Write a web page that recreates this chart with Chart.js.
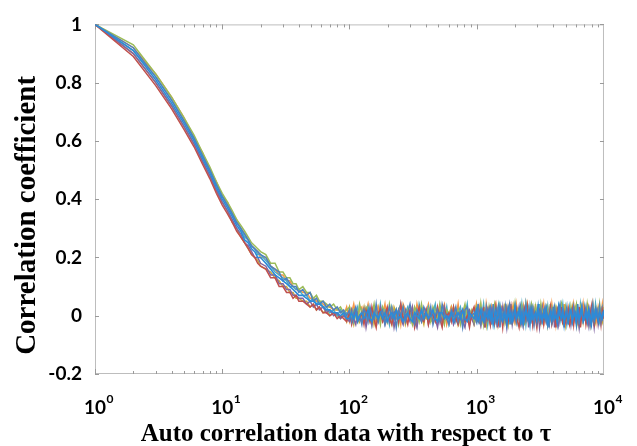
<!DOCTYPE html>
<html>
<head>
<meta charset="utf-8">
<script src="https://cdn.jsdelivr.net/npm/chart.js@4.4.1/dist/chart.umd.min.js"></script>
<style>
  html, body { margin: 0; padding: 0; background: #fff; }
  #wrap { width: 637px; height: 446px; position: relative; }
</style>
</head>
<body>
<div id="wrap"><canvas id="c" width="637" height="446"></canvas></div>
<script>
// Lag tau (samples), shared by every run
const lags = [
  1,2,3,4,5,6,7,8,9,10,
  11,12,13,14,15,16,17,18,19,20,
  22,24,26,28,30,32,34,36,38,40,
  43,46,49,52,55,58,62,66,70,75,
  80,85,90,95,100,104,108,112,116,120,
  125,130,135,140,145,150,156,162,168,175,
  182,190,198,206,215,224,233,243,253,264,
  275,287,299,312,325,339,353,368,384,400,
  417,435,453,472,492,513,535,557,581,605,
  631,657,685,714,744,775,808,842,877,914,
  953,993,1025,1051,1077,1104,1132,1160,1189,1219,
  1250,1281,1313,1346,1380,1414,1450,1486,1523,1561,
  1600,1640,1681,1723,1766,1810,1856,1902,1950,1998,
  2048,2100,2152,2206,2261,2318,2376,2435,2496,2558,
  2622,2688,2755,2824,2895,2967,3041,3117,3195,3275,
  3357,3441,3527,3615,3706,3798,3893,3991,4090,4193,
  4297,4405,4515,4628,4744,4862,4984,5108,5236,5367,
  5501,5639,5780,5924,6072,6224,6380,6539,6703,6870,
  7042,7218,7399,7584,7773,7968,8167,8371,8580,8795,
  9015,9240,9471,9708,10000
];

// Correlation coefficient of each run at the lags above, in hundredths
const run1 = [
  100,92,82,74,67,61,55,50,45,41,
  38,35,32,30,28,26,24,23,22,21,
  20,17,16,15,12,13,11,10,10,8,
  9,7,8,5,6,4,5,3,4,2,
  3,1,2,0,2,-2,1,3,-1,0,
  -3,2,1,-2,3,0,-1,4,-2,1,
  2,-3,0,3,-1,1,-4,2,0,3,
  -2,1,4,-1,-3,2,0,-2,3,1,
  -1,3,-3,0,2,-2,4,1,-1,-3,
  2,0,3,-2,1,-4,2,3,-1,0,
  1,-2,4,-1,-3,2,1,-2,3,0,
  -1,2,-3,4,0,-2,1,3,-4,2,
  0,-1,3,-2,2,4,-3,1,-1,3,
  -2,1,0,3,-3,2,-1,4,0,-2,
  3,-1,2,-3,1,0,4,-2,2,-1,
  1,3,-2,0,-4,2,1,-1,3,0,
  -3,2,4,-1,1,-2,0,3,-3,2,
  1,-2,3,0,-1,4,-3,2,1,-2,
  0,3,-1,2,-3,1,4,-2,0,2,
  -1,3,-2,1,0
];
const run2 = [
  100,89,79,71,64,58,52,47,42,38,
  35,32,29,27,25,23,21,20,18,17,
  16,13,13,10,10,8,8,6,7,5,
  5,4,3,4,2,3,1,1,0,1,
  -1,0,-1,-2,1,-3,0,2,-2,-1,
  1,-3,2,0,-2,3,-1,-4,1,2,
  -2,0,3,-1,-3,1,2,-2,4,-1,
  0,-3,2,1,-4,0,3,-1,-2,2,
  -3,1,0,-2,3,-1,-4,2,0,1,
  -2,3,-1,-3,1,2,-2,0,-4,1,
  3,-1,-2,1,-3,0,2,-4,1,-1,
  2,-3,0,1,-2,3,-1,-3,2,0,
  -4,1,-1,2,-2,0,3,-3,1,-1,
  2,-2,-4,0,1,-3,2,-1,3,-2,
  0,2,-3,1,-1,-4,1,2,-2,0,
  -3,1,2,-2,0,3,-3,-1,1,-4,
  2,0,-1,3,-3,1,-2,0,2,-3,
  -1,2,-3,1,0,-2,3,-4,1,-1,
  2,-3,0,1,-2,3,-1,-3,2,0,
  -2,1,-3,2,-1
];
const run3 = [
  100,93,83,75,68,62,56,51,46,42,
  39,36,33,31,29,27,25,24,23,22,
  21,18,18,15,15,13,13,11,11,9,
  10,8,8,6,7,5,5,4,3,4,
  2,3,1,2,3,-1,2,0,-2,4,
  1,-1,3,2,-2,0,4,-1,1,-3,
  3,1,-2,4,0,-1,2,-3,1,3,
  -1,2,0,-3,3,1,-2,4,0,-1,
  2,-2,3,1,-1,4,0,-3,2,1,
  -1,3,0,2,-3,1,4,-1,0,2,
  -2,3,1,-1,4,0,-3,2,1,-1,
  3,0,-2,2,4,-1,1,-3,3,0,
  1,-2,4,0,-1,3,2,-2,0,4,
  -1,2,1,-3,3,0,-2,4,1,-1,
  2,4,-1,0,3,-2,1,-1,4,1,
  -2,0,3,1,-1,4,-3,2,0,3,
  1,-1,2,4,-2,0,3,-1,1,-3,
  3,0,-1,2,4,-2,1,3,-1,0,
  2,-2,4,1,-1,0,3,-3,2,1,
  0,4,-1,2,1
];
const run4 = [
  100,90,80,72,65,59,53,48,43,39,
  36,33,30,28,25,24,22,20,20,18,
  17,14,14,11,11,9,9,7,7,6,
  6,4,5,3,4,2,3,1,2,0,
  1,-1,0,-1,-2,2,-1,-3,1,0,
  -2,2,-4,0,1,-3,2,-1,-2,3,
  0,-3,1,-2,2,-4,0,1,-1,-3,
  2,0,-2,3,-1,-4,1,-2,0,2,
  -3,0,2,-1,-4,1,-2,3,-1,0,
  1,-3,-1,2,0,-2,-4,1,2,-1,
  -3,2,0,-2,1,-1,3,-4,0,2,
  -1,-3,2,0,-2,1,-4,2,-1,0,
  3,-2,0,-4,1,-1,2,-3,0,1,
  -2,0,3,-1,-3,1,-2,0,2,-4,
  1,-1,-3,2,0,-2,1,-4,0,3,
  -1,2,-2,0,-3,1,-1,3,-4,0,
  2,-3,0,-1,1,-4,2,-2,0,1,
  -3,1,-1,2,-2,0,-4,1,3,-1,
  0,-2,1,-3,2,-1,0,-4,1,2,
  -3,0,2,-1,1
];
const run5 = [
  100,91,82,74,67,61,55,50,45,41,
  38,35,32,30,27,26,24,23,21,21,
  19,17,15,14,13,12,10,10,9,9,
  7,7,5,6,4,5,3,3,1,2,
  0,2,0,1,0,2,-2,1,3,-1,
  2,0,-1,3,1,-3,2,0,-2,4,
  -1,2,1,-3,3,0,-1,2,4,-2,
  1,3,-1,0,2,-3,4,1,-1,0,
  3,-1,1,4,-2,0,2,-1,3,-3,
  0,2,-2,1,3,-1,0,4,-3,1,
  2,-1,3,0,-2,1,4,-1,2,-3,
  1,3,-1,2,-3,0,2,4,-2,1,
  -1,2,0,3,1,-3,4,0,-1,2,
  3,-2,1,0,4,-1,2,-3,1,3,
  -1,1,3,-2,0,2,-1,4,-3,1,
  2,0,-1,3,-2,4,0,1,-1,2,
  0,3,-2,1,4,-1,2,-3,0,3,
  -2,1,2,-1,3,0,-3,4,1,-1,
  3,-1,0,2,-2,1,3,-1,4,0,
  2,-2,1,3,0
];
const run6 = [
  100,92,83,75,68,61,56,50,46,41,
  39,35,33,30,28,26,24,23,22,20,
  20,17,16,14,14,12,12,10,9,9,
  8,8,6,6,5,5,4,3,3,2,
  2,2,0,3,-2,1,4,0,-1,2,
  3,-2,1,4,0,-1,2,-3,3,1,
  0,4,-2,1,3,-1,0,2,-3,4,
  2,-1,1,3,-2,4,0,-1,2,1,
  4,0,-2,3,1,-1,2,4,-3,0,
  3,1,-1,4,-2,0,3,1,2,-1,
  0,4,-2,3,1,-1,2,-3,4,1,
  -2,1,3,0,2,4,-1,1,-3,3,
  2,0,4,-2,3,1,-1,3,0,-2,
  4,1,-1,2,0,3,-3,1,4,0,
  -1,3,1,-2,4,0,2,-1,3,1,
  4,-2,0,3,1,-1,4,0,2,-3,
  1,3,-1,2,0,4,-2,1,3,0,
  2,-1,4,1,-3,2,0,3,-1,4,
  0,2,-2,3,1,-1,4,0,2,-2,
  3,1,0,4,-1
];
const run7 = [
  100,90,80,72,65,59,53,48,43,39,
  36,32,30,27,25,23,21,20,19,17,
  16,15,13,12,10,10,8,8,6,6,
  5,5,3,4,2,3,1,2,0,1,
  0,-1,1,-2,3,0,-3,1,2,-2,
  0,3,-2,1,-1,2,-3,0,3,-1,
  1,-2,2,0,-3,3,1,-1,-2,2,
  -3,0,2,-2,1,3,-1,0,-3,2,
  1,-2,-1,3,0,2,-3,1,-2,0,
  3,-1,2,-3,0,1,-2,3,-1,1,
  -3,0,2,-1,3,-2,0,1,-3,2,
  0,-2,3,1,-1,2,-3,0,2,-1,
  1,3,-2,0,-3,2,1,-1,3,-2,
  0,2,-1,-3,1,3,-2,0,-1,2,
  -2,1,3,-1,0,-3,2,1,-2,3,
  0,-1,2,-3,1,3,-2,0,-1,2,
  -2,1,3,0,-1,2,-3,1,2,-1,
  0,3,-2,1,-1,2,-3,0,3,-2,
  1,-1,2,0,-3,3,-1,1,-2,2,
  -1,2,0,-2,3
];
const run8 = [
  100,91,81,73,66,60,54,49,44,40,
  37,34,31,29,26,25,23,22,20,20,
  18,16,14,13,12,11,10,9,8,7,
  7,6,5,5,4,4,3,2,2,1,
  1,0,1,-1,-1,1,-1,1,-2,0,
  1,-1,0,2,-1,-2,1,0,-1,1,
  -1,1,-2,0,1,-1,2,-1,0,-2,
  0,1,-1,-2,1,0,-1,2,-1,1,
  -1,0,2,-1,-2,1,1,-1,0,-1,
  1,-2,0,1,-1,2,-1,-2,1,0,
  -1,2,-2,0,2,-1,-2,1,0,-1,
  2,-1,1,-3,0,2,-2,0,3,-1,
  -2,1,0,-3,2,-1,1,-2,0,3,
  -1,0,2,-2,1,-3,0,2,-1,1,
  -3,2,-1,0,1,-2,3,-1,0,-2,
  1,-1,2,-3,0,1,-2,2,-1,0,
  -2,3,0,-1,2,-3,1,0,-2,1,
  2,-2,0,1,-3,2,-1,0,3,-2,
  -1,1,-2,2,0,-3,1,-1,2,0,
  -2,1,0,-1,2
];

// Drawing order: first entry ends up on top
const runs = [run8, run1, run2, run3, run4, run5, run6, run7];
const runColors = ['#2B8BD8', '#4F81BD', '#C0504D', '#9BBB59', '#8064A2', '#4BACC6', '#F79646', '#C9A93A'];

const yTickValues = [-0.2, 0, 0.2, 0.4, 0.6, 0.8, 1];
const xDecades = [1, 10, 100, 1000, 10000];
const xExponents = ['0', '1', '2', '3', '4'];
const xTitle = 'Auto correlation data with respect to \u03C4';
const yTitle = 'Correlation coefficient';

const tickFont = { family: 'Lato', weight: 'bold', size: 19 };

const datasets = runs.map((r, i) => {
  const n = Math.min(r.length, lags.length);
  const pts = [];
  for (let j = 0; j < n; j++) pts.push({ x: lags[j], y: r[j] / 100 });
  return {
    data: pts,
    borderColor: runColors[i],
    borderWidth: i === 0 ? 1.6 : 1.5,
    pointRadius: 0,
    fill: false,
    tension: 0
  };
});

// Frame, inward tick marks, exponents and axis titles
const decorations = {
  id: 'decorations',
  beforeDraw(chart) {
    const ctx = chart.ctx;
    ctx.save();
    ctx.fillStyle = '#fff';
    ctx.fillRect(0, 0, chart.width, chart.height);
    ctx.restore();
  },
  beforeDatasetsDraw(chart) {
    const { ctx, chartArea: a, scales } = chart;
    const xs = scales.x, ys = scales.y;
    ctx.save();
    ctx.strokeStyle = '#BDBDBD';
    ctx.lineWidth = 1;
    ctx.strokeRect(a.left + 0.5, a.top + 0.5, a.right - a.left - 1, a.bottom - a.top - 1);
    ctx.strokeStyle = '#9A9A9A';
    ctx.beginPath();
    for (let d = 1; d < 10000; d *= 10) {
      for (let m = 1; m <= 9; m++) {
        const v = d * m;
        const px = Math.round(xs.getPixelForValue(v)) + 0.5;
        const len = m === 1 ? 5 : 3;
        ctx.moveTo(px, a.bottom);
        ctx.lineTo(px, a.bottom - len);
        ctx.moveTo(px, a.top);
        ctx.lineTo(px, a.top + len);
      }
    }
    yTickValues.forEach(v => {
      const py = Math.round(ys.getPixelForValue(v)) + 0.5;
      ctx.moveTo(a.left, py);
      ctx.lineTo(a.left + 4, py);
      ctx.moveTo(a.right, py);
      ctx.lineTo(a.right - 4, py);
    });
    ctx.stroke();
    ctx.restore();
  },
  afterDraw(chart) {
    const { ctx, chartArea: a, scales } = chart;
    const xs = scales.x;
    ctx.save();
    ctx.fillStyle = '#000';
    // decade exponents next to the "10" tick labels
    ctx.font = 'bold 19px Lato';
    const baseW = ctx.measureText('10').width;
    ctx.font = 'bold 12px Lato';
    ctx.textAlign = 'left';
    ctx.textBaseline = 'top';
    const labelTop = xs.top + xs.options.ticks.padding;
    xDecades.forEach((v, i) => {
      const px = xs.getPixelForValue(v);
      ctx.fillText(xExponents[i], px + baseW / 2 + 0.5, labelTop - 3);
    });
    // axis titles
    ctx.font = 'bold 29px "Liberation Serif", "Times New Roman", serif';
    ctx.textAlign = 'center';
    ctx.textBaseline = 'alphabetic';
    ctx.save();
    ctx.translate(a.left - 60, a.top + 191);
    ctx.rotate(-Math.PI / 2);
    ctx.fillText(yTitle, 0, 0);
    ctx.restore();
    ctx.font = 'bold 25px "Liberation Serif", "Times New Roman", serif';
    ctx.fillText(xTitle, a.left + 251, chart.height - 5);
    ctx.restore();
  }
};

new Chart(document.getElementById('c'), {
  type: 'line',
  data: { datasets },
  options: {
    responsive: false,
    animation: false,
    devicePixelRatio: 1,
    layout: { padding: { top: 19, right: 14, bottom: 0, left: 0 } },
    plugins: { legend: { display: false }, tooltip: { enabled: false } },
    scales: {
      x: {
        type: 'logarithmic',
        min: 1,
        max: 10000,
        afterBuildTicks: s => { s.ticks = xDecades.map(v => ({ value: v, major: true })); },
        afterFit: s => { s.height = 72; },
        ticks: {
          callback: () => '10',
          font: tickFont,
          color: '#000',
          padding: 22,
          maxRotation: 0,
          autoSkip: false
        },
        grid: { display: false, drawTicks: false },
        border: { display: false }
      },
      y: {
        min: -0.2,
        max: 1,
        afterBuildTicks: s => { s.ticks = yTickValues.map(v => ({ value: v })); },
        afterFit: s => { s.width = 95; },
        ticks: {
          callback: v => String(+Number(v).toFixed(1)),
          font: tickFont,
          color: '#000',
          padding: 13
        },
        grid: { display: false, drawTicks: false },
        border: { display: false }
      }
    }
  },
  plugins: [decorations]
});
</script>
</body>
</html>
